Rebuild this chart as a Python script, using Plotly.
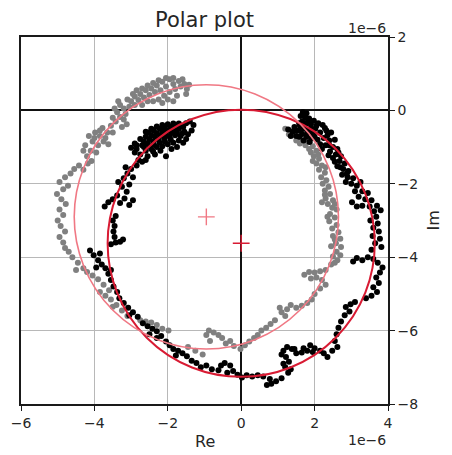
import plotly.graph_objects as go

# Measured response points (units of 1e-6), as (Re, Im) pairs
black_points = [
    (1.68, -0.05), (1.78, -0.08), (1.62, -0.15), (1.74, -0.2), (1.85, -0.22), (1.66, -0.3),
    (1.78, -0.36), (1.9, -0.38), (1.6, -0.42), (1.72, -0.5), (1.84, -0.55), (1.52, -0.55),
    (1.4, -0.58), (1.28, -0.52), (1.66, -0.64), (1.78, -0.72), (1.7, -0.82), (1.86, -0.86),
    (1.72, -0.12), (1.82, -0.3), (1.58, -0.35), (1.68, -0.45), (1.9, -0.48), (1.62, -0.55),
    (1.95, -0.62), (1.8, -0.62), (1.58, -0.72), (1.92, -0.75), (2.08, -0.8), (2.15, -0.92),
    (2.35, -0.68), (2.2, -1.05), (2.38, -1.22), (2.55, -1.4), (2.7, -1.55), (2.88, -1.72),
    (2.05, -0.42), (2.28, -0.48), (2.4, -0.95), (2.65, -1.15), (1.45, -0.45), (1.35, -0.7),
    (1.5, -0.7),
    (1.98, -0.28), (2.1, -0.35), (2.22, -0.4), (2.02, -0.5), (2.15, -0.6), (2.32, -0.55),
    (2.45, -0.6), (2.0, -0.72), (2.25, -0.75), (2.4, -0.82), (2.55, -0.8), (2.3, -0.95),
    (2.5, -1.0), (2.62, -1.05), (2.42, -1.12), (2.58, -1.2), (2.72, -1.25), (2.5, -1.3),
    (2.68, -1.38), (2.82, -1.45), (2.62, -1.52), (2.78, -1.6),
    (2.92, -1.65), (2.75, -1.75), (2.9, -1.82), (3.05, -1.85), (2.85, -1.95), (3.0, -2.0),
    (3.15, -2.05), (3.25, -1.95),
    (3.1, -2.2), (3.3, -2.2), (3.45, -2.25), (3.2, -2.35), (3.38, -2.42), (3.55, -2.45),
    (3.02, -2.5), (3.15, -2.62), (3.3, -2.6), (3.5, -2.62), (3.7, -2.6), (3.62, -2.75), (3.8, -2.72),
    (3.68, -2.9), (3.52, -3.0), (3.72, -3.08), (3.6, -3.2), (3.75, -3.3), (3.58, -3.42),
    (3.78, -3.5), (3.65, -3.62), (3.82, -3.72), (3.55, -3.8),
    (3.05, -4.12), (3.15, -4.02), (3.3, -4.08), (3.45, -4.0), (3.6, -4.05), (3.72, -4.15),
    (3.85, -4.28), (3.78, -4.42),
    (3.68, -4.55), (3.75, -4.7), (3.6, -4.82), (3.7, -4.95), (3.55, -5.05), (3.4, -5.12),
    (3.1, -5.22), (2.98, -5.28), (2.85, -5.36), (2.95, -5.48), (2.82, -5.58),
    (2.72, -5.75), (2.65, -5.92), (2.6, -6.1), (2.55, -6.28), (2.62, -6.45), (2.48, -6.55), (2.35, -6.72),
    (2.15, -6.55), (2.0, -6.48), (1.88, -6.4), (1.8, -6.55), (1.65, -6.6), (1.5, -6.62),
    (1.38, -6.5), (1.25, -6.45), (1.15, -6.55), (1.22, -6.72), (1.3, -6.85), (1.2, -7.0), (1.28, -7.15),
    (1.45, -6.5), (1.7, -6.48), (1.95, -6.58), (2.25, -6.62), (1.1, -6.65), (1.15, -6.9), (1.35, -7.05),
    (1.1, -7.3), (0.95, -7.38), (0.82, -7.45), (0.7, -7.48), (0.78, -7.32),
    (0.6, -7.25), (0.45, -7.22), (0.3, -7.25), (0.15, -7.22), (0.02, -7.28), (-0.1, -7.2),
    (-0.22, -7.1), (-0.38, -7.15), (-0.3, -6.95), (-0.45, -6.88), (-0.55, -6.95), (-0.62, -7.08),
    (-0.8, -7.05), (-0.95, -6.95), (-1.1, -7.0), (-1.22, -6.88), (-1.35, -6.82),
    (-1.48, -6.7), (-1.6, -6.62), (-1.72, -6.55), (-1.85, -6.5), (-1.95, -6.4), (-1.78, -6.68), (-2.05, -6.3),
    (-2.18, -6.15), (-2.3, -6.02), (-2.42, -5.95), (-2.55, -5.88), (-2.68, -5.8), (-2.3, -6.2), (-2.5, -6.1),
    (-2.82, -5.62), (-2.95, -5.5), (-3.08, -5.38), (-3.2, -5.25), (-3.32, -5.12), (-3.05, -5.58),
    (-3.38, -4.95), (-3.48, -4.8), (-3.55, -4.62), (-3.62, -4.45), (-3.7, -4.3), (-3.55, -4.35),
    (-3.8, -4.2), (-3.9, -4.08), (-4.02, -3.95), (-4.12, -3.82), (-3.85, -3.9), (-3.95, -4.28),
    (-3.55, -3.65), (-3.42, -3.6), (-3.3, -3.58), (-3.22, -3.52), (-3.45, -3.45), (-3.48, -3.3),
    (-3.45, -3.15), (-3.5, -3.0), (-3.42, -2.88),
    (-3.72, -2.62), (-3.62, -2.5), (-3.5, -2.42), (-3.38, -2.32), (-3.3, -2.52), (-3.18, -2.4),
    (-3.05, -2.58), (-2.95, -2.45), (-3.12, -2.22), (-3.25, -2.08), (-3.05, -2.02), (-3.35, -1.95),
    (-3.2, -1.85), (-3.1, -1.72), (-2.95, -1.82), (-3.0, -1.6), (-3.15, -1.55), (-2.85, -1.5),
    (-2.6, -0.58), (-2.45, -0.5), (-2.3, -0.44), (-2.15, -0.4), (-2.0, -0.38), (-1.85, -0.36),
    (-1.7, -0.36), (-1.58, -0.45),
    (-2.9, -0.9), (-2.75, -0.78), (-2.6, -0.72), (-2.45, -0.68), (-2.3, -0.62), (-2.15, -0.58),
    (-2.0, -0.55), (-1.85, -0.52), (-1.7, -0.5), (-1.55, -0.58), (-1.45, -0.65),
    (-3.0, -1.02), (-2.85, -1.05), (-2.7, -0.95), (-2.55, -0.9), (-2.4, -0.85), (-2.25, -0.8),
    (-2.1, -0.75), (-1.95, -0.72), (-1.8, -0.68), (-1.65, -0.7), (-1.5, -0.78),
    (-2.75, -1.2), (-2.6, -1.1), (-2.45, -1.05), (-2.3, -1.0), (-2.15, -0.98), (-2.0, -0.92),
    (-1.85, -0.88), (-1.75, -1.0), (-2.7, -1.4), (-2.35, -1.2), (-2.05, -1.25),
    (-2.85, -0.95), (-2.65, -0.85), (-2.5, -0.78), (-2.35, -0.72), (-2.2, -0.68), (-2.05, -0.65),
    (-1.9, -0.6), (-1.75, -0.6), (-1.6, -0.62), (-2.52, -0.6), (-2.38, -0.55), (-2.22, -0.5),
    (-2.08, -0.47), (-1.92, -0.45), (-1.78, -0.44), (-1.65, -0.42), (-2.9, -1.15), (-2.65, -1.0),
    (-2.5, -0.98), (-2.38, -0.92), (-2.22, -0.88), (-2.08, -0.85), (-1.92, -0.8), (-1.7, -0.82),
    (-1.58, -0.88), (-2.55, -1.25), (-2.4, -1.12), (-2.2, -1.1), (-1.9, -1.05), (-2.8, -1.35),
    (-2.6, -1.35), (-1.4, -0.3), (-1.3, -0.4), (-1.5, -0.35), (-1.35, -0.55),
]

gray_points = [
    (1.2, -0.5), (1.32, -0.55), (1.45, -0.52), (1.55, -0.62), (1.4, -0.68), (1.62, -0.75),
    (1.75, -0.8), (1.88, -0.85), (1.5, -0.82),
    (1.3, -0.65), (1.6, -0.9), (1.75, -0.95), (1.85, -1.05), (1.9, -1.15), (1.95, -1.38),
    (2.1, -1.2), (2.3, -1.55), (2.28, -2.3), (2.2, -2.5), (2.55, -2.55), (2.35, -2.9),
    (2.55, -3.52), (2.45, -3.7), (2.7, -3.95), (2.55, -4.15),
    (1.95, -0.98), (2.05, -1.1), (1.98, -1.25), (2.12, -1.32), (2.05, -1.45), (2.2, -1.5),
    (2.12, -1.62), (2.28, -1.7), (2.18, -1.82), (2.32, -1.9), (2.22, -2.0),
    (2.38, -2.08), (2.28, -2.18), (2.42, -2.28), (2.3, -2.4), (2.5, -2.45), (2.36, -2.55),
    (2.48, -2.65), (2.6, -2.7),
    (2.42, -2.82), (2.55, -2.92), (2.4, -3.02), (2.6, -3.12), (2.48, -3.22), (2.65, -3.32),
    (2.5, -3.42), (2.7, -3.5), (2.58, -3.62), (2.72, -3.72),
    (2.6, -3.85), (2.5, -3.98), (2.62, -4.08),
    (2.45, -4.2), (2.3, -4.35), (2.15, -4.38), (2.0, -4.42), (1.85, -4.4), (1.72, -4.48),
    (1.9, -4.58), (2.05, -4.55), (2.2, -4.62), (2.3, -4.75), (2.15, -4.85),
    (2.0, -5.0), (1.92, -5.15), (1.8, -5.25), (1.65, -5.32), (1.5, -5.38), (1.35, -5.3),
    (1.25, -5.42), (1.1, -5.5), (1.2, -5.6), (1.05, -5.38),
    (0.92, -5.72), (0.8, -5.82), (0.68, -5.92), (0.55, -6.0), (0.45, -6.12), (0.35, -6.2),
    (0.22, -6.3), (0.1, -6.4), (-0.02, -6.5),
    (-0.2, -6.42), (-0.3, -6.28), (-0.42, -6.35), (-0.52, -6.2), (-0.62, -6.12), (-0.75, -6.05),
    (-0.88, -6.0), (-0.95, -6.12), (-0.85, -6.28),
    (-1.05, -6.65), (-1.25, -6.55), (-1.45, -6.45),
    (-1.98, -6.0), (-2.15, -5.95), (-2.3, -5.85), (-2.45, -5.78), (-2.6, -5.75), (-2.75, -5.72),
    (-3.1, -5.6), (-3.25, -5.45), (-3.4, -5.3), (-3.55, -5.15), (-3.7, -5.05), (-3.85, -4.95),
    (-3.5, -5.35),
    (-3.6, -4.9), (-3.75, -4.75), (-3.9, -4.6), (-4.05, -4.5), (-4.2, -4.4),
    (-4.3, -4.3), (-4.45, -4.15), (-4.6, -4.0), (-4.7, -3.85), (-4.8, -3.75), (-4.5, -4.35),
    (-4.85, -3.6), (-4.95, -3.45), (-4.8, -3.3), (-4.92, -3.15), (-5.0, -3.0), (-4.85, -2.85),
    (-4.95, -2.7), (-4.78, -2.55), (-4.9, -2.42), (-5.02, -2.28), (-4.85, -2.15), (-4.72, -2.05),
    (-4.95, -1.95), (-4.8, -1.82), (-4.65, -1.72),
    (-4.55, -1.6), (-4.42, -1.5), (-4.3, -1.62), (-4.18, -1.45), (-4.08, -1.38),
    (-4.2, -1.25), (-4.1, -1.1), (-4.25, -0.95), (-4.05, -0.85), (-4.15, -0.7), (-3.98, -0.6),
    (-3.95, -1.15), (-4.0, -0.75), (-3.85, -0.55), (-3.7, -0.75), (-3.5, -0.6), (-4.3, -1.1),
    (-3.9, -0.95), (-3.75, -0.85), (-3.85, -0.7), (-3.65, -0.6), (-3.78, -0.48), (-3.55, -0.42),
    (-3.62, -0.92),
    (-3.42, -0.3), (-3.3, -0.18), (-3.38, -0.05), (-3.2, 0.05), (-3.3, 0.15), (-3.12, -0.38),
    (-3.2, -0.25), (-3.5, -0.2), (-3.45, 0.05), (-3.35, 0.25), (-3.1, 0.3), (-3.15, -0.1),
    (-3.25, -0.45), (-3.05, 0.1),
    (-3.0, 0.25), (-2.9, 0.38), (-2.8, 0.28), (-2.75, 0.45), (-2.65, 0.35), (-2.6, 0.55),
    (-2.5, 0.42), (-2.45, 0.6), (-2.35, 0.5), (-2.3, 0.68), (-2.2, 0.55), (-2.15, 0.78),
    (-2.1, 0.4), (-2.05, 0.65), (-1.95, 0.85), (-1.95, 0.5), (-1.85, 0.72), (-1.8, 0.58),
    (-1.7, 0.8), (-1.65, 0.65), (-1.55, 0.72), (-1.48, 0.58), (-1.42, 0.7), (-2.25, 0.3),
    (-2.0, 0.3), (-1.75, 0.4), (-2.55, 0.25),
    (-2.95, 0.45), (-2.85, 0.55), (-2.7, 0.6), (-2.55, 0.68), (-2.4, 0.75), (-2.25, 0.82),
    (-2.05, 0.88), (-1.85, 0.88), (-1.6, 0.85), (-2.9, 0.15), (-2.7, 0.15), (-2.4, 0.25),
    (-2.15, 0.2), (-1.85, 0.25), (-1.5, 0.45),
]

# Fitted circles: centre (Re, Im) and radius, units of 1e-6
circle_centres = [(0.0, -3.62), (-0.95, -2.9)]
circle_radii = [3.64, 3.6]
circle_colors = ["#d81b33", "#f07884"]
circle_widths = [2.0, 1.6]

x_ticks = [-6, -4, -2, 0, 2, 4]
y_ticks = [2, 0, -2, -4, -6, -8]


def tick_label(v):
    return str(v).replace("-", "\u2212")


font = "DejaVu Sans"
text_color = "#262626"

fig = go.Figure()

fig.add_trace(go.Scatter(
    x=[p[0] for p in gray_points], y=[p[1] for p in gray_points],
    mode="markers", marker=dict(color="#808080", size=6, line=dict(width=0)),
    showlegend=False, hoverinfo="skip",
))
fig.add_trace(go.Scatter(
    x=[p[0] for p in black_points], y=[p[1] for p in black_points],
    mode="markers", marker=dict(color="#000000", size=6, line=dict(width=0)),
    showlegend=False, hoverinfo="skip",
))

# Circle centres as "+" markers
for (cx, cy), col in zip(circle_centres, circle_colors):
    fig.add_trace(go.Scatter(
        x=[cx], y=[cy], mode="markers",
        marker=dict(symbol="cross-thin", size=12, line=dict(color=col, width=1.4)),
        showlegend=False, hoverinfo="skip",
    ))

shapes = []
for (cx, cy), r, col, w in zip(circle_centres, circle_radii, circle_colors, circle_widths):
    shapes.append(dict(type="circle", xref="x", yref="y",
                       x0=cx - r, x1=cx + r, y0=cy - r, y1=cy + r,
                       line=dict(color=col, width=w), layer="above"))

axis_common = dict(
    showgrid=True, gridcolor="#b8b8b8", gridwidth=1.2,
    showline=True, linecolor="#1a1a1a", linewidth=1.6, mirror=True,
    ticks="outside", ticklen=5, tickwidth=1.2, tickcolor="#1a1a1a",
    zeroline=True, zerolinecolor="#111111", zerolinewidth=2,
    tickfont=dict(family=font, size=14, color=text_color),
)

fig.update_layout(
    width=452, height=455,
    margin=dict(l=21, r=64, t=37, b=51),
    paper_bgcolor="white", plot_bgcolor="white",
    xaxis=dict(range=[-6, 4], tickvals=x_ticks, ticktext=[tick_label(v) for v in x_ticks],
               **axis_common),
    yaxis=dict(range=[-8, 2], side="right", tickvals=y_ticks,
               ticktext=[tick_label(v) for v in y_ticks], **axis_common),
    shapes=shapes,
    annotations=[
        dict(text="Polar plot", xref="paper", yref="paper", x=0.5, y=1, yshift=17,
             showarrow=False, font=dict(family=font, size=21, color=text_color),
             xanchor="center", yanchor="middle"),
        dict(text="Re", xref="paper", yref="paper", x=0.5, y=0, yshift=-37,
             showarrow=False, font=dict(family=font, size=16, color=text_color),
             xanchor="center", yanchor="middle"),
        dict(text="Im", xref="paper", yref="paper", x=1, y=0.5, xshift=45, textangle=-90,
             showarrow=False, font=dict(family=font, size=16, color=text_color),
             xanchor="center", yanchor="middle"),
        dict(text="1e\u22126", xref="paper", yref="paper", x=1, y=1, yshift=9,
             showarrow=False, font=dict(family=font, size=14, color=text_color),
             xanchor="right", yanchor="middle"),
        dict(text="1e\u22126", xref="paper", yref="paper", x=1, y=0, yshift=-36,
             showarrow=False, font=dict(family=font, size=14, color=text_color),
             xanchor="right", yanchor="middle"),
    ],
)

fig.write_html("out.html")
